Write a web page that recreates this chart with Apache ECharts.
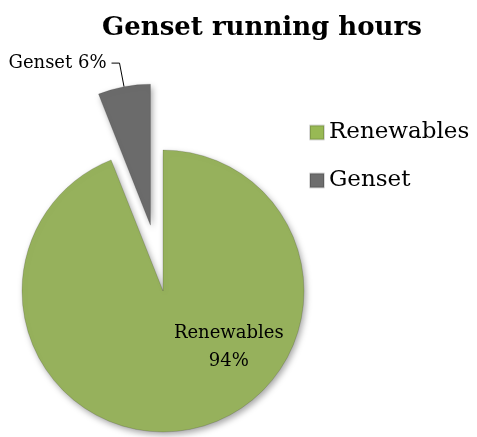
<!DOCTYPE html>
<html>
<head>
<meta charset="utf-8">
<script src="https://cdn.jsdelivr.net/npm/echarts@6/dist/echarts.min.js"></script>
<style>
  html, body { margin: 0; padding: 0; background: #fff; }
  #chart { width: 477px; height: 437px; }
</style>
</head>
<body>
<div id="chart"></div>
<script>
// chart data
const categories = ['Renewables', 'Genset'];
const hoursShare = [94, 6];
const sliceColors = ['#96b15c', '#6b6b6b'];
const legendColors = ['#98b954', '#6e6e6e'];

const serif = '"DejaVu Serif", "Liberation Serif", serif';

const chart = echarts.init(document.getElementById('chart'));

const pieData = categories.map((name, i) => ({
  name: name,
  value: hoursShare[i],
  selected: i === 1,
  itemStyle: { color: sliceColors[i] }
}));

chart.setOption({
  animation: false,
  title: {
    text: 'Genset running hours',
    left: 97,
    top: 10,
    textStyle: { fontFamily: serif, fontSize: 26, fontWeight: 'bold', color: '#000' }
  },
  legend: {
    orient: 'vertical',
    left: 304,
    top: 116,
    icon: 'rect',
    itemWidth: 14,
    itemHeight: 14,
    itemGap: 25,
    textStyle: { fontFamily: serif, fontSize: 23, color: '#000' },
    data: categories.map((name, i) => ({ name: name, itemStyle: { color: legendColors[i] } }))
  },
  series: [{
    type: 'pie',
    center: [163, 291],
    radius: 141,
    startAngle: 90,
    clockwise: true,
    selectedMode: 'single',
    selectedOffset: 67,
    itemStyle: {
      borderColor: 'rgba(0,0,0,0.15)',
      borderWidth: 1,
      shadowBlur: 6,
      shadowOffsetX: 2,
      shadowOffsetY: 3,
      shadowColor: 'rgba(0,0,0,0.35)'
    },
    label: {
      fontFamily: serif,
      fontSize: 18,
      color: '#000',
      lineHeight: 28
    },
    labelLine: { lineStyle: { color: '#000', width: 1 } },
    data: pieData.map((d, i) => Object.assign(d, i === 0 ? {
      label: { position: 'inside', formatter: '{b}\n{d}%', align: 'center' },
      labelLine: { show: false }
    } : {
      label: { position: 'outside', formatter: '{b} {d}%' },
      labelLine: { show: true, length: 24, length2: 8 }
    })),
    labelLayout: function (params) {
      if (params.dataIndex === 0) {
        return { dx: 52, dy: -16 };
      }
      return {};
    }
  }]
});
</script>
</body>
</html>
